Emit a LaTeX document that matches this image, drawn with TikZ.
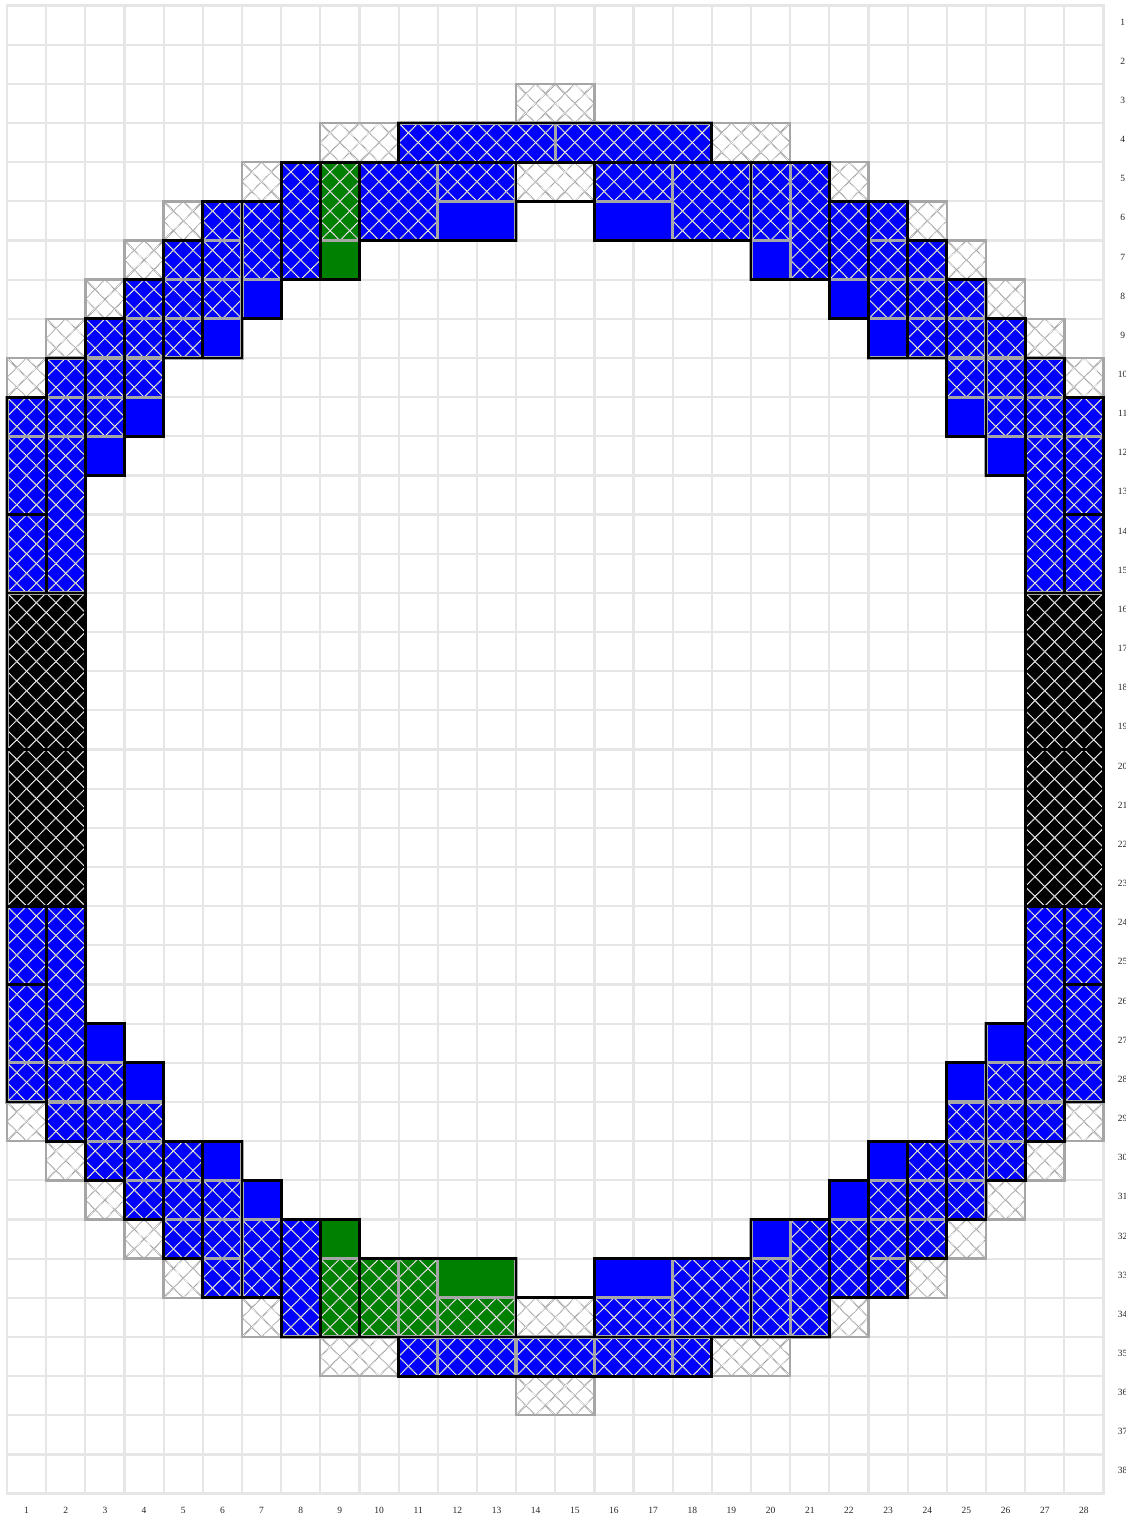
\documentclass[tikz,border=0pt]{standalone}
\usepackage{fontspec}
\setmainfont{Liberation Serif}
\definecolor{gridgray}{HTML}{E6E6E6}
\definecolor{seggray}{HTML}{A6A6A6}
\definecolor{hatchgray}{HTML}{A8A8A8}
\definecolor{hatchdark}{HTML}{808080}
\definecolor{thickgray}{HTML}{BDBDBD}
\definecolor{hwblue}{HTML}{0000FF}
\definecolor{hwgreen}{HTML}{008000}
\newcommand\hwbase{hatchgray}
\tikzset{
  gridline/.style={draw=gridgray,line width=2.2pt,line cap=rect},
  segframe/.style={draw=seggray,line width=3.2pt},
  whiteframe/.style={draw=seggray,line width=2.4pt},
  groupframe/.style={draw=black,line width=2.8pt,line join=miter},
  hatchbase/.style={draw=\hwbase,line width=1pt},
  hatchdots/.style={draw=white,line width=.9pt,dash pattern=on .8pt off .8pt},
  cornerline/.style={draw=thickgray,line width=1.7pt},
  numlabel/.style={inner sep=0pt,font=\fontsize{9.5}{10}\selectfont,text=black!85}
}
% hatch clipped to cells c1..c2 x r1..r2, on a lattice fixed to the grid
\newcommand\hwhatch[4]{%
  \begin{scope}
    \clip ({#1-1},{#2-1}) rectangle (#3,#4);
    \pgfmathtruncatemacro\kA{2*((#1-1)-#4)}
    \pgfmathtruncatemacro\kB{2*(#3-(#2-1))}
    \pgfmathtruncatemacro\mA{2*((#1-1)+(#2-1))}
    \pgfmathtruncatemacro\mB{2*(#3+#4)}
    \foreach \k in {\kA,...,\kB}{
      \draw[hatchbase] ({(#2-1)+\k/2},{#2-1}) -- ({#4+\k/2},#4);
      \draw[hatchdots] ({(#2-1)+\k/2},{#2-1}) -- ({#4+\k/2},#4);
    }
    \foreach \m in {\mA,...,\mB}{
      \draw[hatchbase] ({\m/2-(#2-1)},{#2-1}) -- ({\m/2-#4},#4);
      \draw[hatchdots] ({\m/2-(#2-1)},{#2-1}) -- ({\m/2-#4},#4);
    }
  \end{scope}}
\newcommand\hwfill[5]{\fill[#5] ({#1-1},{#2-1}) rectangle (#3,#4);}
\newcommand\hwframe[4]{\draw[segframe] ({#1-1},{#2-1}) rectangle (#3,#4);}
% segment kinds
\newcommand\hB[4]{\hwfill{#1}{#2}{#3}{#4}{hwblue}\hwhatch{#1}{#2}{#3}{#4}\hwframe{#1}{#2}{#3}{#4}}
\newcommand\sB[4]{\hwfill{#1}{#2}{#3}{#4}{hwblue}\hwframe{#1}{#2}{#3}{#4}}
\newcommand\hG[4]{\hwfill{#1}{#2}{#3}{#4}{hwgreen}\hwhatch{#1}{#2}{#3}{#4}\hwframe{#1}{#2}{#3}{#4}}
\newcommand\sG[4]{\hwfill{#1}{#2}{#3}{#4}{hwgreen}\hwframe{#1}{#2}{#3}{#4}}
\newcommand\hK[4]{\hwfill{#1}{#2}{#3}{#4}{black}\hwhatch{#1}{#2}{#3}{#4}\hwframe{#1}{#2}{#3}{#4}}
% white hatched segment: heavier short strokes run in from each unit corner
\newcommand\hW[4]{\hwfill{#1}{#2}{#3}{#4}{white}%
  \begin{scope}
    \clip ({#1-1},{#2-1}) rectangle (#3,#4);
    \foreach \cc in {#1,...,#3}{
      \draw[cornerline] ({\cc-1},{#2-1}) -- ({\cc-.75},{#2-.75});
      \draw[cornerline] (\cc,{#2-1}) -- ({\cc-.25},{#2-.75});
      \draw[cornerline] ({\cc-1},#2) -- ({\cc-.75},{#2-.25});
      \draw[cornerline] (\cc,#2) -- ({\cc-.25},{#2-.25});
    }
  \end{scope}%
  {\renewcommand\hwbase{hatchdark}\hwhatch{#1}{#2}{#3}{#4}}%
  \draw[whiteframe] ({#1-1},{#2-1}) rectangle (#3,#4);}
\newcommand\grpBox[4]{\draw[groupframe] ({#1-1},{#2-1}) rectangle (#3,#4);}
\begin{document}
\begin{tikzpicture}[x=39.16pt,y=-39.16pt]
\useasboundingbox (-7pt,5.5pt) rectangle (1119pt,-1514.5pt);
\fill[white] (-7pt,5.5pt) rectangle (1119pt,-1514.5pt);
% grid
\foreach \c in {0,...,28}{\draw[gridline] (\c,0) -- (\c,38);}
\foreach \r in {0,...,38}{\draw[gridline] (0,\r) -- (28,\r);}
% labels
\foreach \c in {1,...,28}{\node[numlabel] (col\c) at ({\c-.5},38.44) {\c};}
\foreach \r in {1,...,38}{\node[numlabel] (row\r) at (28.49,{\r-.58}) {\r};}
% white hatched cells, top
\hW{14}{3}{15}{3}\hW{9}{4}{10}{4}\hW{19}{4}{20}{4}\hW{7}{5}{7}{5}\hW{22}{5}{22}{5}
\hW{5}{6}{5}{6}\hW{24}{6}{24}{6}\hW{4}{7}{4}{7}\hW{25}{7}{25}{7}\hW{3}{8}{3}{8}\hW{26}{8}{26}{8}
\hW{2}{9}{2}{9}\hW{27}{9}{27}{9}\hW{1}{10}{1}{10}\hW{28}{10}{28}{10}
% white hatched cells, bottom
\hW{14}{36}{15}{36}\hW{9}{35}{10}{35}\hW{19}{35}{20}{35}\hW{7}{34}{7}{34}\hW{22}{34}{22}{34}
\hW{5}{33}{5}{33}\hW{24}{33}{24}{33}\hW{4}{32}{4}{32}\hW{25}{32}{25}{32}\hW{3}{31}{3}{31}\hW{26}{31}{26}{31}
\hW{2}{30}{2}{30}\hW{27}{30}{27}{30}\hW{1}{29}{1}{29}\hW{28}{29}{28}{29}
% top arc
\hB{11}{4}{14}{4}\hB{15}{4}{18}{4}
\hB{8}{5}{8}{7}
\hG{9}{5}{9}{6}\sG{9}{7}{9}{7}
\hB{10}{5}{11}{6}\hB{12}{5}{13}{5}\sB{12}{6}{13}{6}
\hW{14}{5}{15}{5}
\hB{16}{5}{17}{5}\sB{16}{6}{17}{6}\hB{18}{5}{19}{6}
\hB{20}{5}{20}{6}\sB{20}{7}{20}{7}\hB{21}{5}{21}{7}
% upper left
\hB{7}{6}{7}{7}\sB{7}{8}{7}{8}
\hB{6}{6}{6}{6}\hB{6}{7}{6}{7}\hB{6}{8}{6}{8}\sB{6}{9}{6}{9}
\hB{5}{7}{5}{7}\hB{5}{8}{5}{8}\hB{5}{9}{5}{9}
\hB{4}{8}{4}{8}\hB{4}{9}{4}{9}\hB{4}{10}{4}{10}\sB{4}{11}{4}{11}
\hB{3}{9}{3}{9}\hB{3}{10}{3}{10}\hB{3}{11}{3}{11}\sB{3}{12}{3}{12}
\hB{2}{10}{2}{10}\hB{2}{11}{2}{11}\hB{2}{12}{2}{15}
\hB{1}{11}{1}{11}\hB{1}{12}{1}{13}\hB{1}{14}{1}{15}
% upper right
\hB{22}{6}{22}{7}\sB{22}{8}{22}{8}
\hB{23}{6}{23}{6}\hB{23}{7}{23}{7}\hB{23}{8}{23}{8}\sB{23}{9}{23}{9}
\hB{24}{7}{24}{7}\hB{24}{8}{24}{8}\hB{24}{9}{24}{9}
\hB{25}{8}{25}{8}\hB{25}{9}{25}{9}\hB{25}{10}{25}{10}\sB{25}{11}{25}{11}
\hB{26}{9}{26}{9}\hB{26}{10}{26}{10}\hB{26}{11}{26}{11}\sB{26}{12}{26}{12}
\hB{27}{10}{27}{10}\hB{27}{11}{27}{11}\hB{27}{12}{27}{15}
\hB{28}{11}{28}{11}\hB{28}{12}{28}{13}\hB{28}{14}{28}{15}
% black blocks
\hK{1}{16}{2}{19}\hK{1}{20}{2}{23}\hK{27}{16}{28}{19}\hK{27}{20}{28}{23}
% lower left
\hB{1}{24}{1}{25}\hB{1}{26}{1}{27}\hB{1}{28}{1}{28}
\hB{2}{24}{2}{27}\hB{2}{28}{2}{28}\hB{2}{29}{2}{29}
\sB{3}{27}{3}{27}\hB{3}{28}{3}{28}\hB{3}{29}{3}{29}\hB{3}{30}{3}{30}
\sB{4}{28}{4}{28}\hB{4}{29}{4}{29}\hB{4}{30}{4}{30}\hB{4}{31}{4}{31}
\hB{5}{30}{5}{30}\hB{5}{31}{5}{31}\hB{5}{32}{5}{32}
\sB{6}{30}{6}{30}\hB{6}{31}{6}{31}\hB{6}{32}{6}{32}\hB{6}{33}{6}{33}
\sB{7}{31}{7}{31}\hB{7}{32}{7}{33}
\hB{8}{32}{8}{34}
% bottom arc
\sG{9}{32}{9}{32}\hG{9}{33}{9}{34}
\hG{10}{33}{10}{34}\hG{11}{33}{11}{34}\sG{12}{33}{13}{33}\hG{12}{34}{13}{34}
\hW{14}{34}{15}{34}
\sB{16}{33}{17}{33}\hB{16}{34}{17}{34}\hB{18}{33}{19}{34}
\sB{20}{32}{20}{32}\hB{20}{33}{20}{34}\hB{21}{32}{21}{34}
\hB{11}{35}{11}{35}\hB{12}{35}{13}{35}\hB{14}{35}{15}{35}\hB{16}{35}{17}{35}\hB{18}{35}{18}{35}
% lower right
\sB{22}{31}{22}{31}\hB{22}{32}{22}{33}
\sB{23}{30}{23}{30}\hB{23}{31}{23}{31}\hB{23}{32}{23}{32}\hB{23}{33}{23}{33}
\hB{24}{30}{24}{30}\hB{24}{31}{24}{31}\hB{24}{32}{24}{32}
\sB{25}{28}{25}{28}\hB{25}{29}{25}{29}\hB{25}{30}{25}{30}\hB{25}{31}{25}{31}
\sB{26}{27}{26}{27}\hB{26}{28}{26}{28}\hB{26}{29}{26}{29}\hB{26}{30}{26}{30}
\hB{27}{24}{27}{27}\hB{27}{28}{27}{28}\hB{27}{29}{27}{29}
\hB{28}{24}{28}{25}\hB{28}{26}{28}{27}\hB{28}{28}{28}{28}
% black outlines of the groups
\grpBox{11}{4}{18}{4}\grpBox{8}{5}{8}{7}\grpBox{9}{5}{9}{7}\grpBox{10}{5}{13}{6}\grpBox{14}{5}{15}{5}
\grpBox{16}{5}{19}{6}\grpBox{20}{5}{21}{7}
\grpBox{7}{6}{7}{8}\grpBox{6}{6}{6}{9}\grpBox{5}{7}{5}{9}\grpBox{4}{8}{4}{11}\grpBox{3}{9}{3}{12}
\grpBox{2}{10}{2}{15}\grpBox{1}{11}{1}{13}\grpBox{1}{14}{1}{15}
\grpBox{22}{6}{22}{8}\grpBox{23}{6}{23}{9}\grpBox{24}{7}{24}{9}\grpBox{25}{8}{25}{11}\grpBox{26}{9}{26}{12}
\grpBox{27}{10}{27}{15}\grpBox{28}{11}{28}{13}\grpBox{28}{14}{28}{15}
\grpBox{1}{16}{2}{19}\grpBox{1}{20}{2}{23}\grpBox{27}{16}{28}{19}\grpBox{27}{20}{28}{23}
\grpBox{1}{24}{1}{25}\grpBox{1}{26}{1}{28}\grpBox{2}{24}{2}{29}\grpBox{3}{27}{3}{30}\grpBox{4}{28}{4}{31}
\grpBox{5}{30}{5}{32}\grpBox{6}{30}{6}{33}\grpBox{7}{31}{7}{33}\grpBox{8}{32}{8}{34}
\grpBox{9}{32}{9}{34}\grpBox{10}{33}{13}{34}\grpBox{14}{34}{15}{34}\grpBox{16}{33}{19}{34}\grpBox{20}{32}{21}{34}
\grpBox{11}{35}{18}{35}
\grpBox{22}{31}{22}{33}\grpBox{23}{30}{23}{33}\grpBox{24}{30}{24}{32}\grpBox{25}{28}{25}{31}\grpBox{26}{27}{26}{30}
\grpBox{27}{24}{27}{29}\grpBox{28}{24}{28}{25}\grpBox{28}{26}{28}{28}
\end{tikzpicture}
\end{document}
